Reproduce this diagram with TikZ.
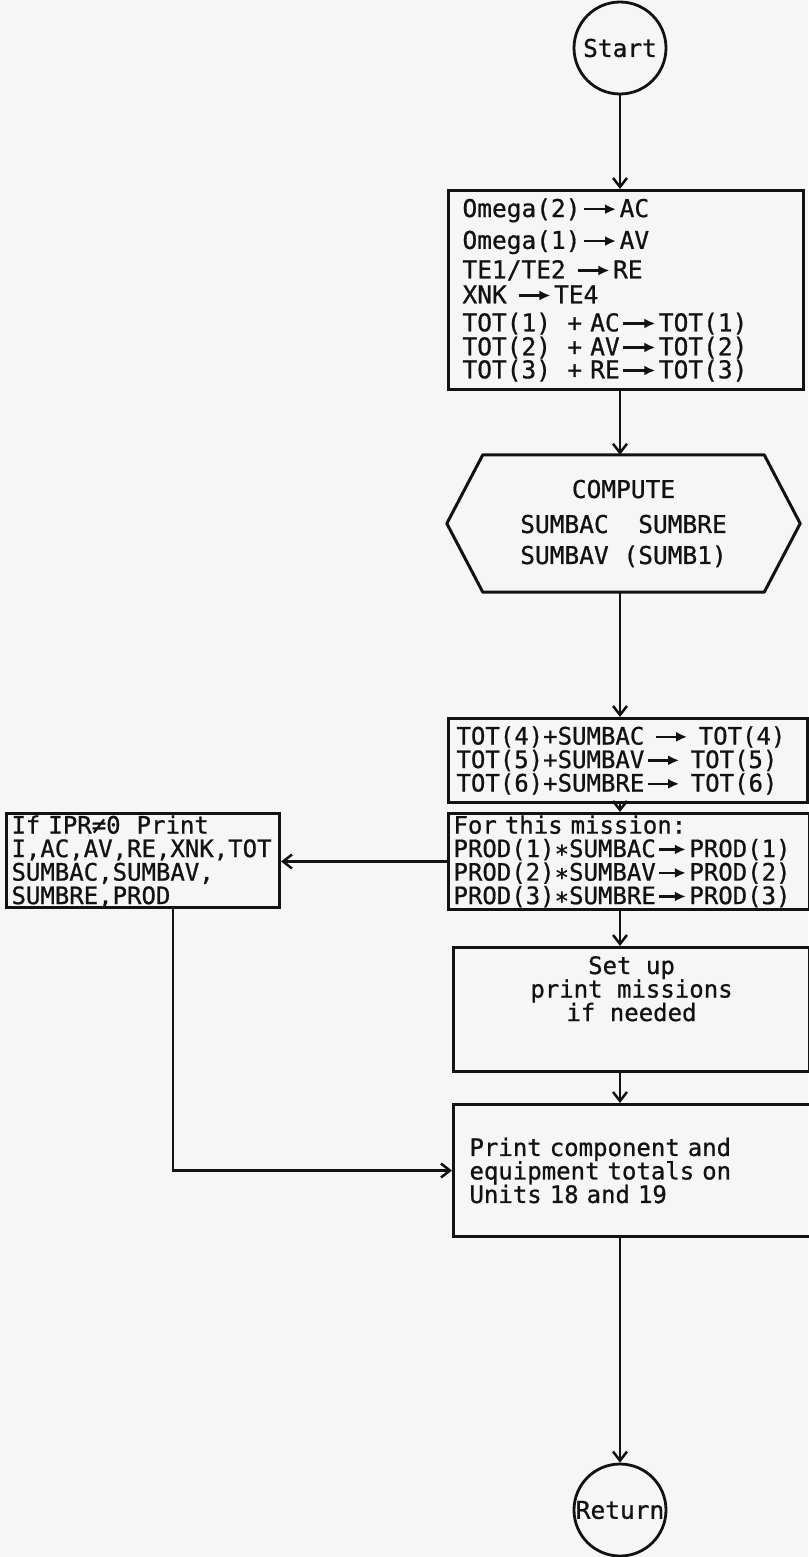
\documentclass[tikz,border=0pt]{standalone}
\usepackage{fontspec}
\setmainfont[FakeBold=0.8]{DejaVu Sans Mono}
\usetikzlibrary{arrows.meta}
\definecolor{bgc}{RGB}{246,246,246}
\definecolor{ink}{RGB}{18,18,18}
\newcommand\tarr[1][1.3em]{\kern0.1em\tikz[baseline=-0.32em]\draw[line width=2.4pt,ink,-{Latex[length=11pt,width=10pt]}] (0pt,0pt)--(#1,0pt);\kern0.1em}
\newcommand\st{\raisebox{-0.22em}{*}}
\begin{document}
\begin{tikzpicture}[x=1pt,y=-1pt,
  box/.style={draw=ink, line width=3pt, anchor=north west, inner sep=0pt, text=ink},
  circ/.style={draw=ink, circle, line width=2.8pt, minimum size=92pt, inner sep=0pt, text=ink, font=\fontsize{24.5}{28}\selectfont},
  conn/.style={draw=ink, line width=2.5pt, -{Straight Barb[length=9pt,width=14pt]}},
  fa/.style={font=\fontsize{24.5}{23}\selectfont},
  fb/.style={font=\fontsize{24}{23.5}\selectfont},
]
\fill[bgc] (0,0) rectangle (808,1557);
\useasboundingbox (0,0) rectangle (808,1557);

\node[circ] (start) at (620,48) {Start};

\node[box, fa, minimum width=355pt, minimum height=199pt, text width=327pt, inner xsep=14pt, align=left] (b1) at (447,189)
{Omega(2)\tarr AC\\[7pt]Omega(1)\tarr AV\\[5pt]TE1/TE2 \tarr RE\\[2pt]XNK \tarr TE4\\[5pt]TOT(1)~~+~AC\tarr TOT(1)\\[1pt]TOT(2)~~+~AV\tarr TOT(2)\\TOT(3)~~+~RE\tarr TOT(3)};

\node[font=\fontsize{24.5}{31}\selectfont, text=ink, minimum width=353pt, minimum height=137pt, inner sep=0pt, align=center] (hex) at (623.5,523.5)
{COMPUTE\\[4pt]SUMBAC~~SUMBRE\\SUMBAV (SUMB1)};
\draw[ink, line width=3pt, line join=round] (hex.west) -- ([xshift=36pt]hex.north west) -- ([xshift=-36pt]hex.north east) -- (hex.east) -- ([xshift=-36pt]hex.south east) -- ([xshift=36pt]hex.south west) -- cycle;

\node[box, fb, minimum width=359pt, minimum height=84pt, text width=343pt, inner xsep=8pt, align=left] (tot) at (447,717)
{TOT(4)+SUMBAC~\tarr~TOT(4)\\TOT(5)+SUMBAV\tarr~TOT(5)\\TOT(6)+SUMBRE\tarr~TOT(6)};

\node[box, fb, minimum width=361pt, minimum height=96pt, text width=351pt, inner xsep=5pt, align=left] (for) at (447,812)
{\rule{0pt}{20pt}For this mission:\\PROD(1)\st SUMBAC\tarr[1.1em]PROD(1)\\PROD(2)\st SUMBAV\tarr[1.1em]PROD(2)\\PROD(3)\st SUMBRE\tarr[1.1em]PROD(3)};

\node[box, fb, minimum width=273pt, minimum height=94pt, text width=263pt, inner xsep=5pt, align=left] (left) at (5,812)
{\rule{0pt}{20pt}If IPR≠0~~Print\\I,AC,AV,RE,XNK,TOT\\SUMBAC,SUMBAV,\\SUMBRE,PROD};

\node[box, minimum width=356pt, minimum height=124pt] (setup) at (452,946) {};
\node[fb, text=ink, align=center, anchor=north, inner sep=0pt] (setuptxt) at ([yshift=-10pt]setup.north)
{Set up\\print missions\\if needed};

\node[box, fb, minimum width=356pt, minimum height=132pt, text width=338pt, inner xsep=16pt, align=left] (print) at (452,1103)
{Print component and\\equipment totals on\\Units 18 and 19};

\node[circ] (ret) at (620,1510) {Return};

\draw[conn] (start.south) -- (start.south |- b1.north);
\draw[conn] (b1.south -| start) -- (hex.north -| start);
\draw[conn] (hex.south -| start) -- (tot.north -| start);
\draw[conn] (tot.south -| start) -- (for.north -| start);
\draw[conn] (for.west) -- (for.west -| left.east);
\draw[conn] (for.south -| start) -- (setup.north -| start);
\draw[conn] (setup.south -| start) -- (print.north -| start);
\draw[conn] (print.south -| start) -- (ret.north);
\draw[conn] ([xshift=30pt]left.south) |- (print.west);
\end{tikzpicture}
\end{document}
